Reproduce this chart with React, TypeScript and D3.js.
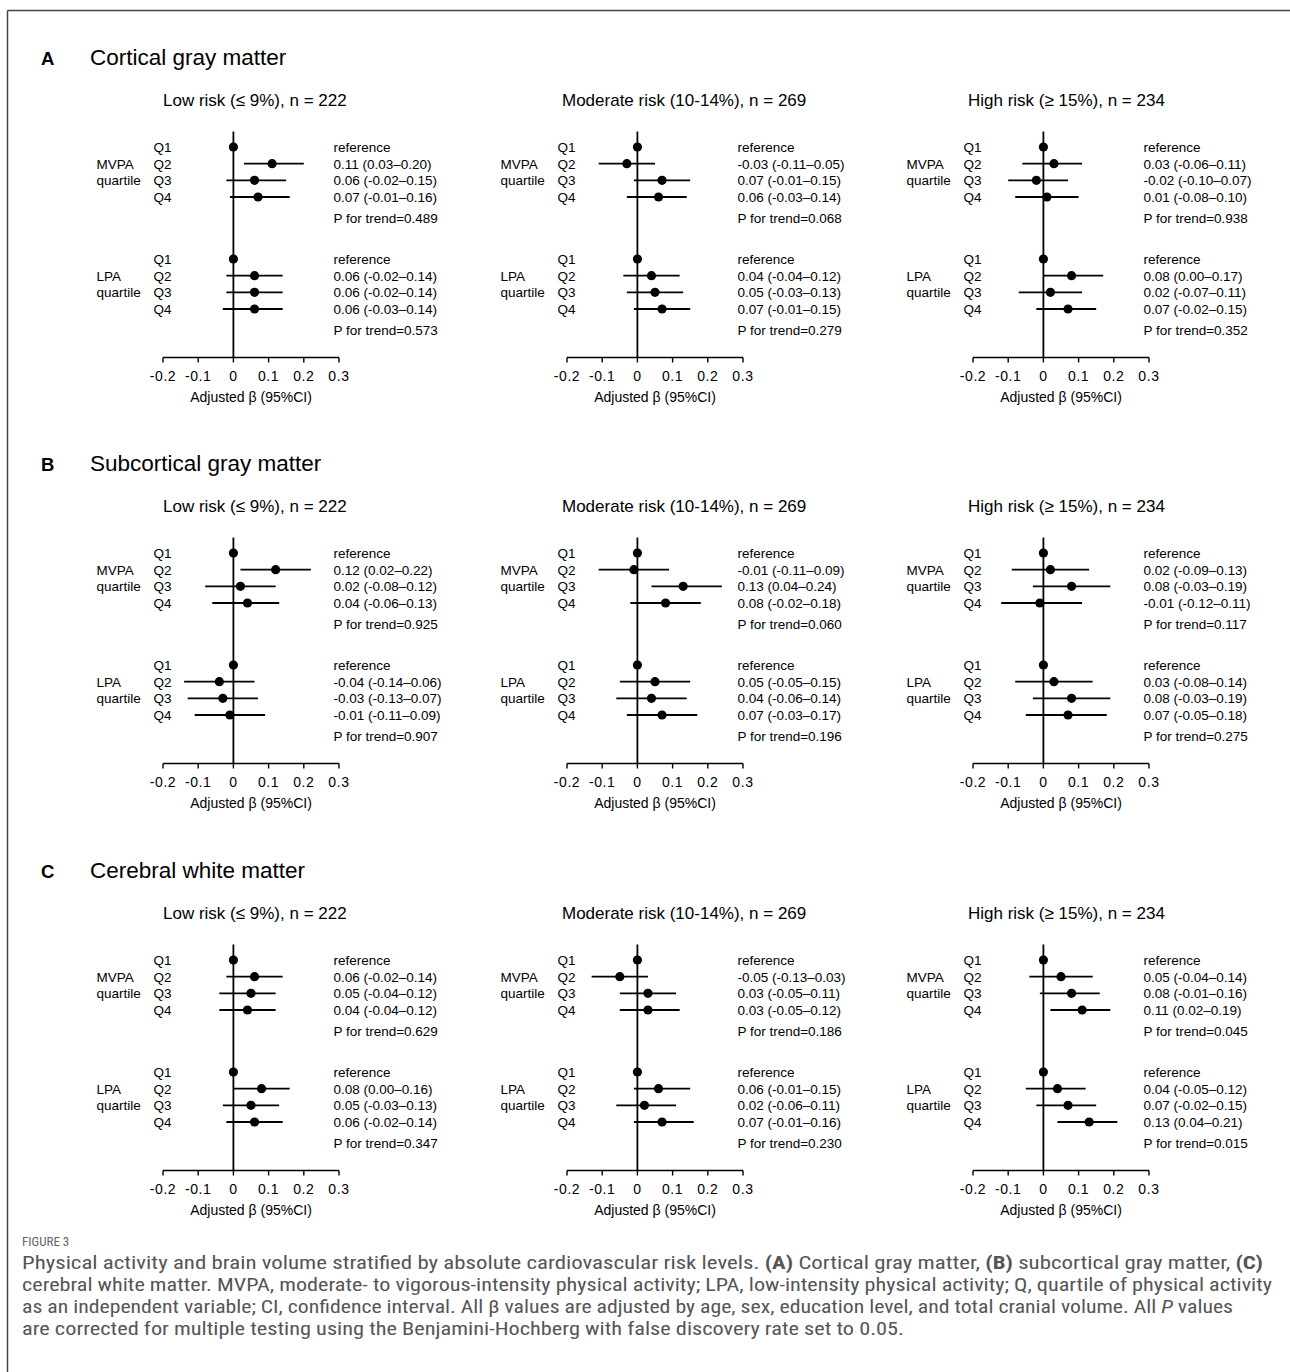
import * as d3 from 'd3';

// panels: outcomes (rows) x risk groups (columns)
const panelLetters = ['A', 'B', 'C'];
const outcomes = ['Cortical gray matter', 'Subcortical gray matter', 'Cerebral white matter'];
const riskGroups = ['Low risk (≤ 9%), n = 222', 'Moderate risk (10-14%), n = 269', 'High risk (≥ 15%), n = 234'];
const exposures = ['MVPA', 'LPA'];
const quartiles = ['Q1', 'Q2', 'Q3', 'Q4'];
const xTicks = [-0.2, -0.1, 0, 0.1, 0.2, 0.3];

// [estimate, lower, upper] for Q2..Q4 (Q1 is reference = 0), per risk group
const corticalMvpa = [
  [[0.11, 0.03, 0.2], [0.06, -0.02, 0.15], [0.07, -0.01, 0.16]],
  [[-0.03, -0.11, 0.05], [0.07, -0.01, 0.15], [0.06, -0.03, 0.14]],
  [[0.03, -0.06, 0.11], [-0.02, -0.1, 0.07], [0.01, -0.08, 0.1]],
];
const corticalLpa = [
  [[0.06, -0.02, 0.14], [0.06, -0.02, 0.14], [0.06, -0.03, 0.14]],
  [[0.04, -0.04, 0.12], [0.05, -0.03, 0.13], [0.07, -0.01, 0.15]],
  [[0.08, 0.0, 0.17], [0.02, -0.07, 0.11], [0.07, -0.02, 0.15]],
];
const corticalPTrend = [[0.489, 0.573], [0.068, 0.279], [0.938, 0.352]];

const subcorticalMvpa = [
  [[0.12, 0.02, 0.22], [0.02, -0.08, 0.12], [0.04, -0.06, 0.13]],
  [[-0.01, -0.11, 0.09], [0.13, 0.04, 0.24], [0.08, -0.02, 0.18]],
  [[0.02, -0.09, 0.13], [0.08, -0.03, 0.19], [-0.01, -0.12, 0.11]],
];
const subcorticalLpa = [
  [[-0.04, -0.14, 0.06], [-0.03, -0.13, 0.07], [-0.01, -0.11, 0.09]],
  [[0.05, -0.05, 0.15], [0.04, -0.06, 0.14], [0.07, -0.03, 0.17]],
  [[0.03, -0.08, 0.14], [0.08, -0.03, 0.19], [0.07, -0.05, 0.18]],
];
const subcorticalPTrend = [[0.925, 0.907], [0.06, 0.196], [0.117, 0.275]];

const whiteMvpa = [
  [[0.06, -0.02, 0.14], [0.05, -0.04, 0.12], [0.04, -0.04, 0.12]],
  [[-0.05, -0.13, 0.03], [0.03, -0.05, 0.11], [0.03, -0.05, 0.12]],
  [[0.05, -0.04, 0.14], [0.08, -0.01, 0.16], [0.11, 0.02, 0.19]],
];
const whiteLpa = [
  [[0.08, 0.0, 0.16], [0.05, -0.03, 0.13], [0.06, -0.02, 0.14]],
  [[0.06, -0.01, 0.15], [0.02, -0.06, 0.11], [0.07, -0.01, 0.16]],
  [[0.04, -0.05, 0.12], [0.07, -0.02, 0.15], [0.13, 0.04, 0.21]],
];
const whitePTrend = [[0.629, 0.347], [0.186, 0.23], [0.045, 0.015]];

const mvpaData = [corticalMvpa, subcorticalMvpa, whiteMvpa];
const lpaData = [corticalLpa, subcorticalLpa, whiteLpa];
const pTrend = [corticalPTrend, subcorticalPTrend, whitePTrend];

const W = 1290;
const H = 1372;
const font = '"Liberation Sans", Arial, sans-serif';
const captionFont = '"Liberation Sans Narrow", "Roboto Condensed", "Liberation Sans", sans-serif';

// layout
const rowOffset = [0, 406, 813];
const colOffset = [0, 404, 810];
const subtitleX = [163, 562, 968];
const groupTop = [147, 259];

const f2 = (v: number) => v.toFixed(2);
const f3 = d3.format('.3f');

function Panel({ row, col }: { row: number; col: number }) {
  const dy = rowOffset[row];
  const dx = colOffset[col];
  const x = d3.scaleLinear().domain([-0.2, 0.3]).range([163 + dx, 339 + dx]);
  const yRow = d3.scaleLinear().domain([0, 3]).range([0, 50]);
  const axisY = 357.5 + dy;
  const x0 = x(0);

  const groups = [mvpaData[row][col], lpaData[row][col]];

  return (
    <g>
      <text x={subtitleX[col]} y={106 + dy} fontSize={17} fontFamily={font}>
        {riskGroups[col]}
      </text>
      {groups.map((g, gi) => {
        const top = groupTop[gi] + dy;
        const pts = [[0, 0, 0], ...g];
        return (
          <g key={gi}>
            <text x={x0 - 137} y={top + yRow(1) + 5} fontSize={13.5} fontFamily={font}>
              {exposures[gi]}
            </text>
            <text x={x0 - 137} y={top + yRow(2) + 5} fontSize={13.5} fontFamily={font}>
              quartile
            </text>
            {pts.map((p, qi) => {
              const cy = top + yRow(qi);
              return (
                <g key={qi}>
                  <text x={x0 - 80} y={cy + 5} fontSize={13.5} fontFamily={font}>
                    {quartiles[qi]}
                  </text>
                  {qi > 0 && (
                    <line x1={x(p[1])} x2={x(p[2])} y1={cy} y2={cy} stroke="#000" strokeWidth={1.8} />
                  )}
                  <circle cx={x(p[0])} cy={cy} r={4.6} fill="#000" />
                  <text x={x0 + 100} y={cy + 5} fontSize={13.5} fontFamily={font}>
                    {qi === 0 ? 'reference' : `${f2(p[0])} (${f2(p[1])}–${f2(p[2])})`}
                  </text>
                </g>
              );
            })}
            <text x={x0 + 100} y={top + yRow(3) + 26} fontSize={13.5} fontFamily={font}>
              {`P for trend=${f3(pTrend[row][col][gi])}`}
            </text>
          </g>
        );
      })}
      <line x1={x0} x2={x0} y1={131.5 + dy} y2={axisY} stroke="#000" strokeWidth={1.8} />
      <line x1={x(-0.2)} x2={x(0.3)} y1={axisY} y2={axisY} stroke="#000" strokeWidth={1.6} />
      {xTicks.map((t) => (
        <g key={t}>
          <line x1={x(t)} x2={x(t)} y1={axisY} y2={axisY + 5} stroke="#000" strokeWidth={1.4} />
          <text
            x={x(t)}
            y={axisY + 23.5}
            textAnchor="middle"
            fontSize={14}
            letterSpacing={0.6}
            fontFamily={font}
          >
            {t === 0 ? '0' : t.toFixed(1)}
          </text>
        </g>
      ))}
      <text x={(x(-0.2) + x(0.3)) / 2} y={axisY + 44.5} textAnchor="middle" fontSize={14} fontFamily={font}>
        Adjusted β (95%CI)
      </text>
    </g>
  );
}

export default function App() {
  const capY = [1263, 1285, 1307, 1329];
  const capW = [1241, 1250, 1211, 882];
  const capStyle = { fontSize: 18, fontFamily: captionFont, fill: '#555' };
  return (
    <svg
      width={W}
      height={H}
      style={{ display: 'block', position: 'absolute', left: 0, top: 0, background: '#fff' }}
    >
      <rect x={0} y={0} width={W} height={H} fill="#fff" />
      <line x1={7.5} x2={W} y1={10.5} y2={10.5} stroke="#444" strokeWidth={1.5} />
      <line x1={7.5} x2={7.5} y1={10.5} y2={H} stroke="#444" strokeWidth={1.5} />

      {outcomes.map((o, r) => (
        <g key={o}>
          <text x={41} y={65 + rowOffset[r]} fontSize={18.5} fontWeight={700} fontFamily={font}>
            {panelLetters[r]}
          </text>
          <text x={90} y={65 + rowOffset[r]} fontSize={22.5} fontFamily={font}>
            {o}
          </text>
          {riskGroups.map((_, c) => (
            <Panel key={c} row={r} col={c} />
          ))}
        </g>
      ))}

      <text x={22} y={1246} fontSize={13} fontFamily={captionFont} fill="#666">
        FIGURE 3
      </text>
      <text x={22} y={capY[0] + 6} textLength={capW[0]} lengthAdjust="spacingAndGlyphs" {...capStyle}>
        Physical activity and brain volume stratified by absolute cardiovascular risk levels.{' '}
        <tspan fontWeight="bold">(A)</tspan> Cortical gray matter, <tspan fontWeight="bold">(B)</tspan>{' '}
        subcortical gray matter, <tspan fontWeight="bold">(C)</tspan>
      </text>
      <text x={22} y={capY[1] + 6} textLength={capW[1]} lengthAdjust="spacingAndGlyphs" {...capStyle}>
        cerebral white matter. MVPA, moderate- to vigorous-intensity physical activity; LPA, low-intensity physical
        activity; Q, quartile of physical activity
      </text>
      <text x={22} y={capY[2] + 6} textLength={capW[2]} lengthAdjust="spacingAndGlyphs" {...capStyle}>
        as an independent variable; CI, confidence interval. All β values are adjusted by age, sex, education level,
        and total cranial volume. All <tspan fontStyle="italic">P</tspan> values
      </text>
      <text x={22} y={capY[3] + 6} textLength={capW[3]} lengthAdjust="spacingAndGlyphs" {...capStyle}>
        are corrected for multiple testing using the Benjamini-Hochberg with false discovery rate set to 0.05.
      </text>
    </svg>
  );
}
